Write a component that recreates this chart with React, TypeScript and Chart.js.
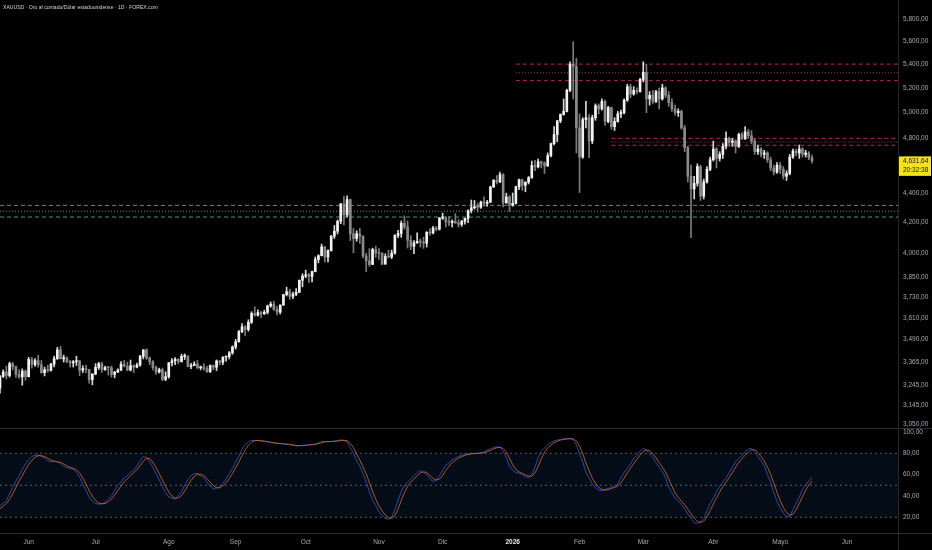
import React, { useEffect, useRef } from 'react';
import { Chart, registerables } from 'chart.js';

Chart.register(...registerables);

const FONT = '"Liberation Sans", Arial, sans-serif';
const TITLE = 'XAUUSD · Oro al contado/Dólar estadounidense · 1D · FOREX.com';

// x-axis months (first segment is the tail of May 2025, unlabeled)
const monthNames = ['', 'Jun', 'Jul', 'Ago', 'Sep', 'Oct', 'Nov', 'Dic', '2026', 'Feb', 'Mar', 'Abr', 'Mayo', 'Jun'];
const monthBars = [9, 21, 23, 21, 22, 23, 20, 22, 21, 20, 22, 21, 21, 17];

// price axis ticks
const priceTicks = [3050, 3145, 3245, 3365, 3490, 3610, 3730, 3850, 4000, 4200, 4400, 4800, 5000, 5200, 5400, 5600, 5800];
const oscTicks = [20, 40, 60, 80, 100];

// daily candles [open, high, low, close]
const candles: number[][] = [
  [3230,3296,3204,3290],[3290,3325,3285,3314],[3314,3345,3277,3295],[3295,3366,3287,3357],[3357,3365,3325,3342],
  [3342,3345,3285,3301],[3301,3325,3280,3288],[3288,3330,3245,3318],[3318,3325,3271,3289],
  [3289,3392,3288,3380],[3380,3392,3334,3353],[3353,3385,3343,3374],[3374,3403,3339,3352],[3352,3375,3307,3310],
  [3310,3339,3293,3325],[3325,3349,3313,3322],[3322,3360,3318,3355],[3355,3398,3340,3385],[3385,3446,3380,3432],
  [3432,3451,3382,3384],[3384,3404,3366,3388],[3388,3395,3363,3369],[3369,3375,3340,3362],[3362,3375,3340,3368],
  [3368,3398,3348,3373],[3373,3375,3295,3323],[3323,3347,3311,3332],[3332,3350,3310,3327],[3327,3328,3255,3274],
  [3274,3305,3247,3303],
  [3303,3358,3299,3338],[3338,3365,3327,3357],[3357,3366,3311,3326],[3326,3345,3322,3337],[3337,3343,3297,3336],
  [3336,3345,3287,3301],[3301,3317,3283,3313],[3313,3330,3310,3324],[3324,3369,3321,3355],[3355,3375,3341,3343],
  [3343,3366,3320,3324],[3324,3377,3319,3347],[3347,3352,3310,3339],[3339,3361,3335,3350],[3350,3402,3345,3397],
  [3397,3433,3383,3432],[3432,3438,3381,3387],[3387,3394,3352,3368],[3368,3374,3325,3337],[3337,3345,3301,3314],
  [3314,3334,3308,3326],[3326,3334,3268,3275],[3275,3315,3268,3289],
  [3289,3363,3281,3363],[3363,3385,3346,3373],[3373,3390,3352,3381],[3381,3385,3357,3369],[3369,3409,3366,3397],
  [3397,3410,3380,3398],[3398,3400,3341,3343],[3343,3359,3331,3348],[3348,3368,3347,3356],[3356,3375,3330,3336],
  [3336,3345,3325,3340],[3340,3358,3323,3332],[3332,3345,3311,3315],[3315,3351,3311,3348],[3348,3351,3325,3339],
  [3339,3378,3321,3372],[3372,3376,3351,3365],[3365,3394,3352,3393],[3393,3398,3371,3396],[3396,3423,3383,3416],
  [3416,3454,3408,3448],
  [3448,3490,3436,3476],[3476,3540,3475,3533],[3533,3578,3527,3560],[3560,3567,3511,3545],[3545,3600,3535,3586],
  [3586,3646,3578,3636],[3636,3674,3620,3626],[3626,3657,3620,3641],[3641,3649,3612,3634],[3634,3655,3630,3643],
  [3643,3685,3633,3679],[3679,3703,3672,3690],[3690,3707,3654,3659],[3659,3676,3628,3644],[3644,3686,3633,3685],
  [3685,3748,3683,3746],[3746,3791,3738,3764],[3764,3779,3718,3736],[3736,3762,3722,3749],[3749,3782,3740,3760],
  [3760,3834,3758,3833],[3833,3872,3793,3858],
  [3858,3895,3848,3866],[3866,3875,3820,3856],[3856,3889,3822,3886],[3886,3977,3884,3961],[3961,3991,3940,3985],
  [3985,4059,3983,4041],[4041,4045,3945,3976],[3976,4022,3945,4017],[4017,4116,4014,4110],[4110,4180,4095,4143],
  [4143,4218,4125,4208],[4208,4330,4192,4326],[4326,4379,4185,4251],[4251,4381,4236,4356],[4356,4359,4082,4125],
  [4125,4161,4004,4095],[4095,4146,4077,4126],[4126,4161,4064,4111],[4111,4113,3971,3983],[3983,4001,3886,3952],
  [3952,4030,3918,3930],[3930,4033,3929,4024],[4024,4046,3974,4002],
  [4002,4030,3962,4000],[4000,4004,3929,3932],[3932,3997,3931,3980],[3980,4020,3970,3977],[3977,4020,3966,4001],
  [4001,4120,3995,4115],[4115,4149,4100,4128],[4128,4211,4103,4195],[4195,4245,4156,4171],[4171,4211,4033,4084],
  [4084,4113,4023,4045],[4045,4081,3997,4067],[4067,4132,4063,4077],[4077,4093,4040,4072],[4072,4104,4031,4065],
  [4065,4140,4040,4136],[4136,4160,4115,4131],[4131,4175,4125,4164],[4164,4174,4145,4156],[4156,4234,4150,4230],
  [4230,4264,4220,4231],[4231,4240,4170,4206],[4206,4240,4180,4200],[4200,4218,4170,4208],[4208,4260,4195,4197],
  [4197,4220,4170,4188],[4188,4215,4175,4208],[4208,4230,4190,4228],[4228,4285,4200,4280],[4280,4353,4265,4300],
  [4300,4350,4290,4305],[4305,4330,4270,4303],[4303,4345,4295,4339],[4339,4375,4310,4330],[4330,4350,4310,4338],
  [4338,4450,4336,4444],[4444,4497,4440,4490],[4490,4525,4465,4480],[4480,4550,4475,4532],[4532,4540,4305,4333],
  [4333,4400,4330,4374],[4374,4384,4275,4319],
  [4319,4402,4310,4330],[4330,4450,4325,4445],[4445,4500,4425,4495],[4495,4500,4420,4455],[4455,4480,4410,4478],
  [4478,4518,4465,4510],[4510,4630,4505,4598],[4598,4635,4560,4588],[4588,4645,4580,4625],[4625,4630,4580,4615],
  [4615,4625,4540,4595],[4595,4690,4590,4670],[4670,4765,4660,4760],[4760,4890,4750,4830],[4830,4940,4775,4935],
  [4935,4990,4920,4985],[4985,5110,4980,5010],[5010,5190,5005,5180],[5180,5420,5170,5400],[5400,5595,5110,5380],
  [5380,5450,4690,4880],
  [4880,4990,4405,4660],[4660,4960,4650,4945],[4945,5090,4880,4960],[4960,4985,4655,4780],[4780,4980,4760,4960],
  [4960,5070,4940,5055],[5055,5070,4990,5030],[5030,5110,5020,5090],[5090,5100,4900,4930],[4930,5050,4920,5040],
  [5040,5045,4870,4890],[4890,4960,4860,4930],[4930,5010,4925,4990],[4990,5020,4960,5000],[5000,5110,4990,5100],
  [5100,5230,5090,5210],[5210,5230,5120,5150],[5150,5210,5140,5180],[5180,5200,5150,5170],[5170,5280,5165,5270],
  [5270,5420,5250,5330],[5330,5400,5000,5110],[5110,5170,5060,5140],[5140,5180,5070,5090],[5090,5180,5080,5170],
  [5170,5200,5030,5110],[5110,5230,5100,5200],[5200,5210,5120,5140],[5140,5170,5050,5080],[5080,5110,5010,5030],
  [5030,5060,4980,5000],[5000,5030,4970,5010],[5010,5020,4870,4880],[4880,4900,4700,4730],[4730,4740,4480,4520],
  [4520,4600,4100,4430],[4430,4520,4360,4470],[4470,4610,4450,4590],[4590,4600,4350,4380],[4380,4500,4360,4480],
  [4480,4590,4470,4570],[4570,4660,4560,4640],
  [4640,4780,4630,4720],[4720,4730,4580,4650],[4650,4700,4630,4680],[4680,4760,4650,4740],[4740,4850,4720,4800],
  [4800,4810,4740,4770],[4770,4800,4740,4780],[4780,4790,4690,4740],[4740,4840,4730,4830],[4830,4845,4790,4800],
  [4800,4890,4790,4850],[4850,4870,4800,4820],[4820,4860,4760,4780],[4780,4800,4680,4700],[4700,4750,4680,4720],
  [4720,4730,4660,4680],[4680,4710,4650,4690],[4690,4700,4620,4640],[4640,4660,4560,4580],[4580,4600,4530,4550],
  [4550,4620,4540,4600],
  [4600,4620,4540,4570],[4570,4590,4500,4520],[4520,4560,4490,4540],[4540,4680,4530,4660],[4660,4720,4650,4705],
  [4705,4720,4670,4690],[4690,4750,4650,4720],[4720,4730,4660,4680],[4680,4710,4660,4690],[4690,4700,4640,4655],
  [4655,4675,4615,4631.64],
];

// stochastic %K and %D
const stochK = [
  30.6,33,36,42,48,54,59,65,70,74,
  77,78,78.4,77,76,73,72,72.5,72,70.6,
  68,66.5,66,65,62,58,51,45,39,35,
  33,32.4,32.5,34,37,40,45,50,53,57,
  59,62,64,68,73,77,76,72,67,61,
  55,49,43,39,38,37,40,44,50,55,
  59,61,61,59,57,53,49,46.5,47.5,49,
  52,56,61,66,72,77,84,88,91,92,
  92,92,91.5,91,90.5,90,89.5,89,89,88.7,
  88.5,88,87.5,86.8,87,87.5,87.8,88,88.3,88.7,
  90,91,91,91,91,91.5,92,92.5,92,91,
  85,80,73,68,61,53,44,36,31,25,
  22,19,18,20,27,36,44,50,53,56,
  59,62,64,62,60,56,53.5,55,59,64,
  69,71,74,75.5,77,78,79.3,79.5,79.8,80,
  80,80.5,81,83,84,85.6,86,85.6,82,76,
  68,64,62,61.5,60,58,57.4,60,67,76,
  82,85,88,90,91.5,92.5,93,93.5,93.7,93.8,
  93,88,79,72,62,57,51,48,45.5,45,
  46,47,48,49,51,57,62,66,70,75,
  78,82,84.6,83,80,76,71,67,63,57,
  48,43,38,35,32,28,23,19,15,14.3,
  16,19,26,33,38,44,49,53,57,62,
  67,72,75,78,81.5,84,84.6,81,77,73,
  68,60,53,43,35,29,24,20.6,21,27,
  33,39,46,50.5,54,57.4,
];
const stochD = [
  28,30.5,33,37,42,48,54,59,64.5,69.5,
  73.5,76,77.8,77.8,77,75.3,73.7,72.5,72,71.5,
  70,68.3,66.8,65.8,64.3,61.7,57,51.3,45,39.7,
  35.7,33.5,32.6,33,34.5,37,40.7,45,49.3,53.3,
  56.3,59.3,61.7,64.7,68.3,72.7,75.3,75,71.7,66.7,
  61,55,49,43.7,40,38,38.3,40.3,44.7,49.7,
  54.7,58.3,60.3,60.3,59,56.3,53,49.5,47.7,47.7,
  49.5,52.3,56.3,61,66.3,71.7,77.7,83,87.7,90.3,
  91.7,92,91.8,91.5,91,90.5,90,89.5,89.2,88.9,
  88.7,88.4,88,87.4,87.1,87.1,87.4,87.8,88,88.3,
  89,89.9,90.7,91,91,91.2,91.5,92,92.2,91.8,
  89.3,85.3,79.3,73.7,67.3,60.7,52.7,44.3,37,30.7,
  26,22,19.7,19,21.7,27.7,35.7,43.3,49,53,
  56,59,61.7,62.7,62,59.3,56.5,54.8,55.8,59.3,
  64,68,71.3,73.5,75.5,76.8,78.1,78.9,79.5,79.8,
  79.9,80.2,80.5,81.5,82.7,84.2,85.2,85.7,84.5,81.2,
  75.3,69.3,64.7,62.5,61.2,59.8,58.5,58.5,61.5,67.7,
  75,81,85,87.7,89.8,91.3,92.3,93,93.4,93.7,
  93.5,91.6,86.7,79.7,71,63.7,56.7,52,48.2,46.2,
  45.5,46,47,48,49.3,52.3,56.7,61.7,66,70.3,
  74.3,78.3,81.5,83.2,82.5,79.7,75.7,71.3,67,62.3,
  56,49.3,43,38.7,35,31.7,27.7,23.3,19,16.1,
  15.1,16.4,20.3,26,32.3,38.3,43.7,48.7,53,57.3,
  62,67,71.3,75,78.2,81.2,83.4,83.2,80.9,77,
  72.7,67,60.3,52,43.7,35.7,29.3,24.5,21.9,22.9,
  27,33,39.3,45.2,50.2,54,
];

// horizontal levels: [price, startBar, kind]
const redLevels: [number, number, string][] = [
  [5400, 162, 'dash'], [5326, 162, 'dot'], [5260, 162, 'dash'],
  [4800, 192, 'dash'], [4772, 192, 'dot'], [4748, 192, 'dash'],
];
const greenLevels: [number, number, string][] = [
  [4316, 0, 'dash'], [4276, 0, 'dot'], [4237, 0, 'dash'],
];
const oscBands = [80, 50, 20];
const countdown = '20:32:38';

const PLOT_RIGHT_W = 34;

function buildLabels() {
  const labels: string[] = [];
  const tickText: string[] = [];
  monthBars.forEach((n, m) => {
    for (let k = 0; k < n; k++) {
      labels.push(`${m}:${k}`);
      tickText.push(k === 0 ? monthNames[m] : '');
    }
  });
  return { labels, tickText };
}

function fmt(v: number) {
  const [i, d] = Number(v).toFixed(2).split('.');
  return i.replace(/\B(?=(\d{3})+(?!\d))/g, ',') + ',' + d;
}

export default function App() {
  const mainRef = useRef<HTMLCanvasElement>(null);
  const oscRef = useRef<HTMLCanvasElement>(null);

  useEffect(() => {
    const { labels, tickText } = buildLabels();
    const last = labels.length - 1;
    const UP = '#f2f2f2';
    const DOWN = '#8a8a8a';
    const tickColor = '#a6a9b0';

    const levelDs = (lv: [number, number, string], color: string, dotColor: string) => ({
      type: 'line' as const,
      data: [{ x: labels[lv[1]], y: lv[0] }, { x: labels[last], y: lv[0] }],
      borderColor: lv[2] === 'dash' ? color : dotColor,
      borderWidth: 1,
      borderDash: lv[2] === 'dash' ? [4, 3] : [1, 2],
      pointRadius: 0,
      fill: false,
      order: 3,
    });

    const mainPlugin = {
      id: 'mainDecor',
      afterDraw(chart: any) {
        const ctx = chart.ctx;
        ctx.save();
        ctx.font = `6.5px ${FONT}`;
        const w = ctx.measureText(TITLE).width;
        const size = 6.5 * 155 / w;
        ctx.font = `${size.toFixed(2)}px ${FONT}`;
        ctx.fillStyle = '#d1d4dc';
        ctx.textBaseline = 'middle';
        ctx.textAlign = 'left';
        ctx.fillText(TITLE, 3, 7.5);
        const lastClose = candles[candles.length - 1][3];
        const y = chart.scales.y.getPixelForValue(lastClose);
        const x0 = chart.chartArea.right + 1;
        ctx.fillStyle = '#f5e21b';
        ctx.fillRect(x0, y - 4.5, 932 - x0 - 1, 19.5);
        ctx.fillStyle = '#1a1a1a';
        ctx.font = `6.5px ${FONT}`;
        ctx.fillText(fmt(lastClose), x0 + 4, y + 0.5);
        ctx.fillText(countdown, x0 + 4, y + 9.5);
        ctx.strokeStyle = '#262626';
        ctx.lineWidth = 1;
        ctx.beginPath();
        ctx.moveTo(chart.chartArea.right + 0.5, 0);
        ctx.lineTo(chart.chartArea.right + 0.5, chart.height);
        ctx.stroke();
        ctx.restore();
      },
    };

    const main = new Chart(mainRef.current!, {
      type: 'bar',
      data: {
        labels,
        datasets: [
          {
            type: 'bar',
            data: candles.map((c) => [c[0], c[3]]),
            backgroundColor: candles.map((c) => (c[3] >= c[0] ? UP : DOWN)),
            barThickness: 2,
            minBarLength: 1,
            grouped: false,
            borderWidth: 0,
            order: 0,
          } as any,
          {
            type: 'bar',
            data: candles.map((c) => [c[2], c[1]]),
            backgroundColor: candles.map((c) => (c[3] >= c[0] ? '#d8d8d8' : '#7c7c7c')),
            barThickness: 1,
            grouped: false,
            borderWidth: 0,
            order: 1,
          } as any,
          ...redLevels.map((l) => levelDs(l, '#bd2550', '#9c4a62')),
          ...greenLevels.map((l) => levelDs(l, '#3a9c82', '#7b8a84')),
        ],
      },
      options: {
        responsive: false,
        animation: false,
        events: [],
        layout: { padding: 0 },
        plugins: { legend: { display: false }, tooltip: { enabled: false } },
        scales: {
          x: { type: 'category', offset: false, display: false, grid: { display: false } },
          y: {
            type: 'logarithmic',
            position: 'right',
            min: 3032,
            max: 5978,
            bounds: 'data',
            afterBuildTicks: (s: any) => { s.ticks = priceTicks.map((v) => ({ value: v })); },
            afterFit: (s: any) => { s.width = PLOT_RIGHT_W; s.paddingTop = 0; s.paddingBottom = 0; },
            ticks: { callback: (v: any) => fmt(v), color: tickColor, font: { size: 6.5, family: FONT }, padding: 5, autoSkip: false },
            grid: { display: false, drawTicks: false },
            border: { display: false },
          } as any,
        },
      },
      plugins: [mainPlugin],
    });

    const oscPlugin = {
      id: 'oscDecor',
      afterDraw(chart: any) {
        const ctx = chart.ctx;
        ctx.save();
        ctx.strokeStyle = '#2e2e2e';
        ctx.lineWidth = 1;
        ctx.beginPath();
        ctx.moveTo(0, 0.5); ctx.lineTo(chart.width, 0.5);
        ctx.moveTo(0, chart.chartArea.bottom + 0.5); ctx.lineTo(chart.width, chart.chartArea.bottom + 0.5);
        ctx.stroke();
        ctx.strokeStyle = '#262626';
        ctx.beginPath();
        ctx.moveTo(chart.chartArea.right + 0.5, 0);
        ctx.lineTo(chart.chartArea.right + 0.5, chart.height);
        ctx.stroke();
        ctx.restore();
      },
    };

    const osc = new Chart(oscRef.current!, {
      type: 'line',
      data: {
        labels,
        datasets: [
          {
            data: [{ x: labels[0], y: oscBands[0] }, { x: labels[last], y: oscBands[0] }],
            borderWidth: 0,
            pointRadius: 0,
            backgroundColor: 'rgba(30,110,190,0.12)',
            fill: { value: oscBands[2] },
            order: 5,
          } as any,
          ...oscBands.map((b) => ({
            data: [{ x: labels[0], y: b }, { x: labels[last], y: b }],
            borderColor: '#575a63',
            borderWidth: 1,
            borderDash: [2, 3],
            pointRadius: 0,
            fill: false,
            order: 4,
          })),
          { data: stochD, borderColor: '#d8692c', borderWidth: 0.8, pointRadius: 0, fill: false, tension: 0, order: 1 } as any,
          { data: stochK, borderColor: '#2f5ad6', borderWidth: 0.8, pointRadius: 0, fill: false, tension: 0, order: 2 } as any,
        ],
      },
      options: {
        responsive: false,
        animation: false,
        events: [],
        layout: { padding: 0 },
        plugins: { legend: { display: false }, tooltip: { enabled: false } },
        scales: {
          x: {
            type: 'category',
            offset: false,
            afterFit: (s: any) => { s.height = 17; s.paddingLeft = 0; s.paddingRight = 0; },
            ticks: {
              autoSkip: false,
              maxRotation: 0,
              minRotation: 0,
              padding: 5,
              callback: (_v: any, i: number) => tickText[i],
              color: (c: any) => (c.tick && c.tick.label === '2026' ? '#e6e8ee' : tickColor),
              font: (c: any) => ({ size: 6.5, family: FONT, weight: c.tick && c.tick.label === '2026' ? 'bold' : 'normal' }),
            },
            grid: { display: false, drawTicks: false },
            border: { display: false },
          } as any,
          y: {
            type: 'linear',
            position: 'right',
            min: 5.3,
            max: 103.7,
            afterBuildTicks: (s: any) => { s.ticks = oscTicks.map((v) => ({ value: v })); },
            afterFit: (s: any) => { s.width = PLOT_RIGHT_W; s.paddingTop = 0; s.paddingBottom = 0; },
            ticks: { callback: (v: any) => fmt(v), color: tickColor, font: { size: 6.5, family: FONT }, padding: 5, autoSkip: false },
            grid: { display: false, drawTicks: false },
            border: { display: false },
          } as any,
        },
      },
      plugins: [oscPlugin],
    });

    return () => {
      main.destroy();
      osc.destroy();
    };
  }, []);

  return (
    <div style={{ position: 'fixed', left: 0, top: 0, width: 932, height: 550, background: '#000', overflow: 'hidden' }}>
      <canvas ref={mainRef} width={932} height={428} style={{ position: 'absolute', left: 0, top: 0, width: 932, height: 428 }} />
      <canvas ref={oscRef} width={932} height={122} style={{ position: 'absolute', left: 0, top: 428, width: 932, height: 122 }} />
    </div>
  );
}
